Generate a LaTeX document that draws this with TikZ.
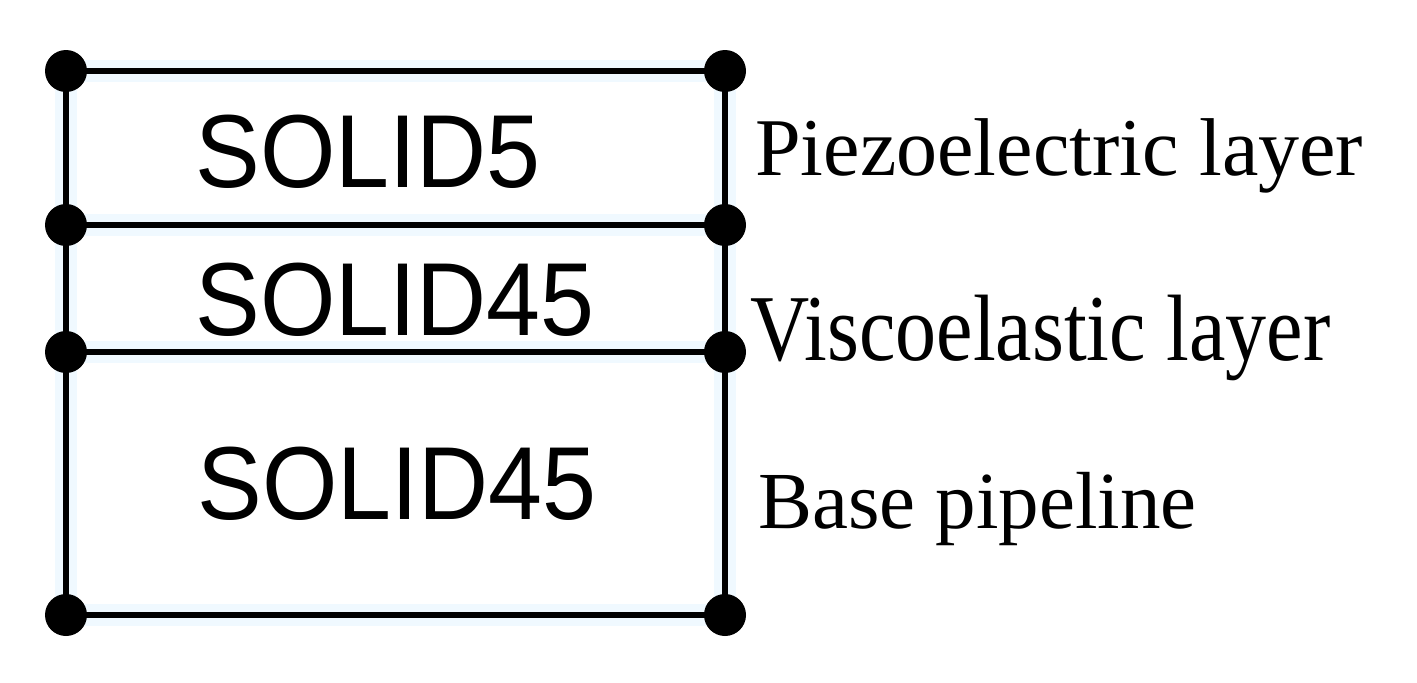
\documentclass[tikz,border=0pt]{standalone}
\usepackage{fontspec}
\setmainfont{Liberation Serif}
\newfontfamily\solidfont{Liberation Sans}
\begin{document}
\begin{tikzpicture}[x=1pt,y=-1pt,
  dot/.style={circle,fill=black,minimum size=42pt,inner sep=0pt},
  wire/.style={line width=6.5pt,black},
  glow/.style={line width=22pt,color=blue!40!cyan,opacity=0.06,line cap=round},
  elem/.style={font=\solidfont\fontsize{97}{97}\selectfont,anchor=base,inner sep=0pt,yscale=1.07},
  lab/.style={font=\fontsize{82}{82}\selectfont,anchor=base west,inner sep=0pt}]
\useasboundingbox (0,0) rectangle (1417,683);
\fill[white] (0,0) rectangle (1417,683);
% coordinates of the nodes
\coordinate (c1) at (66,71);   \coordinate (c2) at (725,71);
\coordinate (c3) at (66,225);  \coordinate (c4) at (725,225);
\coordinate (c5) at (66,352);  \coordinate (c6) at (725,352);
\coordinate (c7) at (66,615);  \coordinate (c8) at (725,615);
% faint glow
\begin{scope}[shift={(4,8)}]
\draw[glow] (c1) -- (c2) (c3) -- (c4) (c5) -- (c6) (c7) -- (c8) (c1) -- (c7) (c2) -- (c8);
\end{scope}
% wires
\draw[wire] (c1) -- (c2);
\draw[wire] (c3) -- (c4);
\draw[wire] (c5) -- (c6);
\draw[wire] (c7) -- (c8);
\draw[wire] (c1) -- (c3);
\draw[wire] (c3) -- (c5);
\draw[wire] (c5) -- (c7);
\draw[wire] (c2) -- (c4);
\draw[wire] (c4) -- (c6);
\draw[wire] (c6) -- (c8);
% dots
\foreach \i in {1,...,8} \node[dot] (p\i) at (c\i) {};
% element labels
\node[elem] (e1) at (368,187) {SOLID5};
\node[elem] (e2) at (395,335) {SOLID45};
\node[elem] (e3) at (397,519) {SOLID45};
% layer labels
\node[lab] (l1) at (755,175) {Piezoelectric layer};
\node[lab,yscale=1.15] (l2) at (750,360) {Viscoelastic layer};
\node[lab,font=\fontsize{81}{81}\selectfont] (l3) at (758,528) {Base pipeline};
\end{tikzpicture}
\end{document}
